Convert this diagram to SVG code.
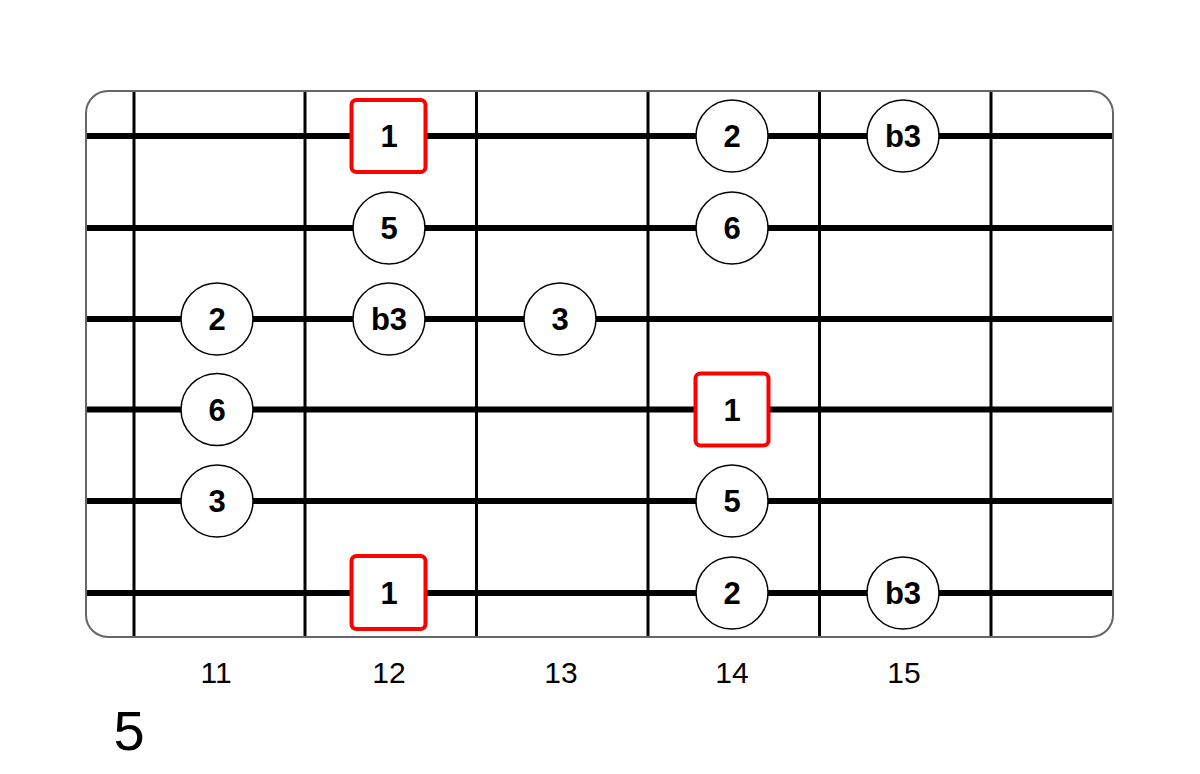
<svg xmlns="http://www.w3.org/2000/svg" width="1200" height="774" viewBox="0 0 1200 774">
<style>
.str{stroke:#000;stroke-width:6;}
.fret{stroke:#000;stroke-width:3;}
.dot circle{fill:#fff;stroke:#000;stroke-width:1.5;}
.root rect{fill:#fff;stroke:#f00;stroke-width:4;}
.lbl{font-family:"Liberation Sans",Arial,sans-serif;font-size:31px;font-weight:bold;text-anchor:middle;fill:#000;}
.num{font-family:"Liberation Sans",Arial,sans-serif;font-size:30px;text-anchor:middle;fill:#000;}
</style>
<rect width="1200" height="774" fill="#fff"/>
<g id="board">
<rect x="86" y="91" width="1027" height="546" rx="22" fill="#fff" stroke="#666" stroke-width="2"/>
</g>
<g id="connectors">
<line class="fret" x1="134" y1="92" x2="134" y2="636"/>
<line class="fret" x1="305" y1="92" x2="305" y2="636"/>
<line class="fret" x1="476.5" y1="92" x2="476.5" y2="636"/>
<line class="fret" x1="648" y1="92" x2="648" y2="636"/>
<line class="fret" x1="819.5" y1="92" x2="819.5" y2="636"/>
<line class="fret" x1="991" y1="92" x2="991" y2="636"/>
<line class="str" x1="87" y1="136" x2="1112" y2="136"/>
<line class="str" x1="87" y1="228" x2="1112" y2="228"/>
<line class="str" x1="87" y1="319" x2="1112" y2="319"/>
<line class="str" x1="87" y1="409.5" x2="1112" y2="409.5"/>
<line class="str" x1="87" y1="501" x2="1112" y2="501"/>
<line class="str" x1="87" y1="593" x2="1112" y2="593"/>
</g>
<g id="n1" class="root"><rect x="351.5" y="100" width="74" height="72" rx="5"/><text class="lbl" x="389" y="147">1</text></g>
<g id="n2" class="dot"><circle cx="732" cy="136" r="36"/><text class="lbl" x="732" y="147">2</text></g>
<g id="n3" class="dot"><circle cx="903" cy="136" r="36"/><text class="lbl" x="903" y="147">b3</text></g>
<g id="n4" class="dot"><circle cx="389" cy="228" r="36"/><text class="lbl" x="389" y="239">5</text></g>
<g id="n5" class="dot"><circle cx="732" cy="228" r="36"/><text class="lbl" x="732" y="239">6</text></g>
<g id="n6" class="dot"><circle cx="217" cy="319" r="36"/><text class="lbl" x="217" y="330">2</text></g>
<g id="n7" class="dot"><circle cx="389" cy="319" r="36"/><text class="lbl" x="389" y="330">b3</text></g>
<g id="n8" class="dot"><circle cx="560" cy="319" r="36"/><text class="lbl" x="560" y="330">3</text></g>
<g id="n9" class="dot"><circle cx="217" cy="409.5" r="36"/><text class="lbl" x="217" y="420.5">6</text></g>
<g id="n10" class="root"><rect x="695.5" y="373.5" width="73" height="72" rx="5"/><text class="lbl" x="732" y="420.5">1</text></g>
<g id="n11" class="dot"><circle cx="217" cy="501" r="36"/><text class="lbl" x="217" y="512">3</text></g>
<g id="n12" class="dot"><circle cx="732" cy="501" r="36"/><text class="lbl" x="732" y="512">5</text></g>
<g id="n13" class="root"><rect x="351.5" y="556" width="74" height="73" rx="5"/><text class="lbl" x="389" y="604">1</text></g>
<g id="n14" class="dot"><circle cx="732" cy="593" r="36"/><text class="lbl" x="732" y="604">2</text></g>
<g id="n15" class="dot"><circle cx="903" cy="593" r="36"/><text class="lbl" x="903" y="604">b3</text></g>
<g id="labels">
<text class="num" x="216" y="683">11</text>
<text class="num" x="389" y="683">12</text>
<text class="num" x="561" y="683">13</text>
<text class="num" x="732" y="683">14</text>
<text class="num" x="904" y="683">15</text>
<text x="129" y="750" font-family="'Liberation Sans',Arial,sans-serif" font-size="56" text-anchor="middle">5</text>
</g>
</svg>
